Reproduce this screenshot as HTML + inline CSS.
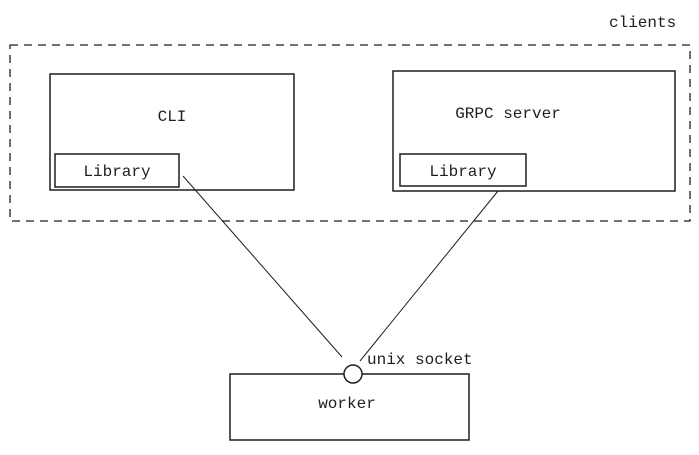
<!DOCTYPE html>
<html><head><style>
body{margin:0;background:#fff;width:699px;height:450px;overflow:hidden}
text{font-family:"Liberation Mono",monospace;font-size:16px;fill:#1e1e1e}
</style></head><body>
<svg width="699" height="450" viewBox="0 0 699 450" xmlns="http://www.w3.org/2000/svg">
<rect x="10" y="45" width="680" height="176" fill="none" stroke="#1e1e1e" stroke-width="1.3" stroke-dasharray="8 6"/>
<text x="609" y="27">clients</text>
<rect x="50" y="74" width="244" height="116" fill="none" stroke="#1e1e1e" stroke-width="1.5"/>
<text x="172" y="121" text-anchor="middle">CLI</text>
<rect x="55" y="154" width="124" height="33" fill="none" stroke="#1e1e1e" stroke-width="1.5"/>
<text x="117" y="176" text-anchor="middle">Library</text>
<rect x="393" y="71" width="282" height="120" fill="none" stroke="#1e1e1e" stroke-width="1.5"/>
<text x="508" y="118" text-anchor="middle">GRPC server</text>
<rect x="400" y="154" width="126" height="32" fill="none" stroke="#1e1e1e" stroke-width="1.5"/>
<text x="463" y="176" text-anchor="middle">Library</text>
<line x1="183" y1="176" x2="342" y2="357" stroke="#1e1e1e" stroke-width="1"/>
<line x1="498" y1="191" x2="360" y2="361" stroke="#1e1e1e" stroke-width="1"/>
<rect x="230" y="374" width="239" height="66" fill="none" stroke="#1e1e1e" stroke-width="1.5"/>
<circle cx="353" cy="374" r="9" fill="#fff" stroke="#1e1e1e" stroke-width="1.5"/>
<text x="367" y="364">unix socket</text>
<text x="347" y="408" text-anchor="middle">worker</text>
</svg>
</body></html>
